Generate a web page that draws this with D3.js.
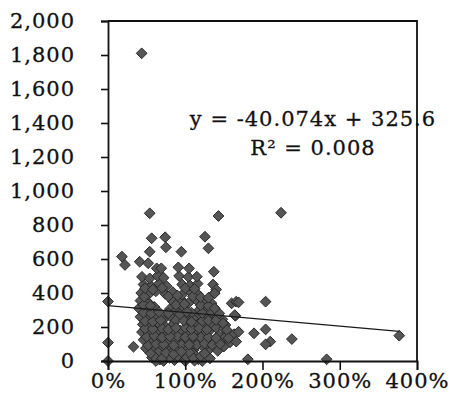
<!DOCTYPE html>
<html><head><meta charset="utf-8">
<script src="https://cdn.jsdelivr.net/npm/d3@7"></script>
<style>body{margin:0;background:#fff}svg{display:block}</style>
</head><body><svg id="c" width="453" height="408"></svg>
<script>
// growth ratio (fraction, shown as %) and amount for each point
const growth = [
  0.57,0.67,0.76,0.86,0.97,1.06,1.17,1.27,0.72,1.00,1.12,0.62,0.92,1.22,
  0.49,0.60,0.70,0.80,0.91,1.01,1.11,1.22,1.32,1.42,1.50,
  0.46,0.56,0.66,0.76,0.87,0.97,1.07,1.18,1.28,1.38,1.49,1.58,
  0.44,0.53,0.63,0.73,0.83,0.93,1.03,1.13,1.23,1.33,1.43,1.54,1.63,
  0.45,0.55,0.65,0.75,0.85,1.05,1.15,1.25,1.35,1.45,1.52,
  0.42,0.52,0.62,0.72,0.80,1.00,1.10,1.20,1.30,1.40,1.48,
  0.40,0.50,0.60,0.80,0.88,0.98,1.18,1.28,1.38,
  0.42,0.52,0.84,0.94,1.04,1.14,1.24,1.34,
  0.43,0.52,0.62,0.74,0.84,0.96,1.06,1.16,1.38,
  0.46,0.56,0.66,0.76,0.96,1.06,1.16,1.36,
  0.44,0.54,0.64,0.72,0.92,1.04,1.15,
  0.41,0.52,0.63,0.69,0.91,1.05,1.37,
  0.82,1.10,0.65,0.95,1.15,0.70,1.00,0.90,1.20,0.78,1.08,1.22,0.88,
  0.60,0.80,0.90,1.02,1.10,1.20,0.70,1.32,
  0.55,0.75,0.85,1.05,1.25,0.95,
  0.52,0.62,0.72,0.85,1.05,1.25,1.35,1.45,
  0.50,0.60,0.70,0.80,1.00,1.10,1.30,1.40,1.52,
  0.48,0.58,0.78,0.88,1.08,1.18,1.28,1.40,1.50,
  0.48,0.58,0.68,0.98,1.08,1.30,1.40,
  0.46,0.56,0.66,0.93,1.02,1.22,1.34,1.44,
  0.46,0.55,0.88,0.99,1.20,1.30,
  0.47,0.78,0.90,1.10,1.20,1.30,
  0.48,0.58,0.70,1.00,1.12,1.40,
  0.18,0.22,0.54,0.565,0.74,0.75,0.54,0.95,1.255,1.30,1.43,2.24,0.436,
  0.00,0.00,0.00,0.33,
  1.60,1.66,1.69,1.65,1.49,1.54,1.56,1.69,1.89,2.04,2.04,2.10,2.04,2.38,3.77,1.81,2.83,1.38,1.38,1.64,1.66
];
const amount = [
  20,8,30,5,15,35,10,25,0,0,2,0,40,0,
  75,62,85,70,55,80,66,90,72,60,85,
  125,110,130,105,120,135,112,128,100,118,130,110,
  170,160,175,150,168,180,155,172,160,185,150,170,158,
  215,205,225,200,220,210,225,200,218,230,212,
  260,250,270,245,265,262,250,270,255,265,245,
  310,300,318,305,295,315,300,320,310,
  355,345,350,365,340,360,350,340,
  400,390,410,395,405,390,410,395,400,
  450,440,455,440,450,445,455,450,
  495,486,500,490,500,495,496,
  584,575,545,545,551,545,525,
  45,45,50,95,95,190,195,145,140,280,285,235,240,
  25,18,28,22,20,28,15,15,
  45,48,40,52,45,55,
  92,100,98,92,96,102,95,100,
  142,148,138,145,140,145,140,135,142,
  190,188,185,195,188,192,185,195,190,
  235,232,240,238,230,238,240,
  285,280,288,275,290,282,288,280,
  330,325,330,335,328,325,
  378,380,385,380,375,372,
  428,420,430,428,425,420,
  614,565,869,722,728,669,643,643,731,663,853,872,1810,
  350,108,0,84,
  339,349,345,266,222,182,134,172,163,349,186,114,98,129,149,10,10,398,310,270,114
];
const yTicks = [0,200,400,600,800,1000,1200,1400,1600,1800,2000];
const xTicks = [0,1,2,3,4];
const slope = -40.074, intercept = 325.6;
const eqLabel = "y = -40.074x + 325.6";
const r2Label = "R\u00b2 = 0.008";

const svg = d3.select("#c");
const x = d3.scaleLinear().domain([0,4]).range([108,417]);
const y = d3.scaleLinear().domain([0,2000]).range([361,21]);
const font = "'DejaVu Serif', serif";

// points
const sym = d3.symbol().type(d3.symbolSquare).size(58);
svg.append("g").selectAll("path").data(growth.map((g,i)=>[g,amount[i]]))
  .join("path")
  .attr("d", sym)
  .attr("transform", d => `translate(${x(d[0])},${y(d[1])}) rotate(45)`)
  .attr("fill", "#555555")
  .attr("stroke", "#262626")
  .attr("stroke-width", 0.9);

// trend line
const xmin = d3.min(growth), xmax = d3.max(growth);
svg.append("line")
  .attr("x1", x(xmin)).attr("y1", y(intercept + slope*xmin))
  .attr("x2", x(xmax)).attr("y2", y(intercept + slope*xmax))
  .attr("stroke", "#1a1a1a").attr("stroke-width", 1.2);

// frame (top and right)
svg.append("path")
  .attr("d", `M${x(0)},${y(2000)}H${x(4)}V${y(0)}`)
  .attr("fill","none").attr("stroke","#111").attr("stroke-width",1.8);

// axes
const yAxis = svg.append("g").attr("transform", `translate(${x(0)},0)`)
  .call(d3.axisLeft(y).tickValues(yTicks).tickSize(7).tickPadding(26).tickFormat(d3.format(",")));
const xAxis = svg.append("g").attr("transform", `translate(0,${y(0)})`)
  .call(d3.axisBottom(x).tickValues(xTicks).tickSize(9).tickPadding(3).tickFormat(d3.format(".0%")));
[yAxis, xAxis].forEach(a => {
  a.select(".domain").attr("stroke","#111").attr("stroke-width",1.8);
  a.selectAll(".tick line").attr("stroke","#111").attr("stroke-width",1.6);
  a.selectAll("text").attr("font-family", font).attr("font-size", 21)
    .attr("fill","#111").attr("stroke","#111").attr("stroke-width",0.3)
    .attr("letter-spacing", 1);
});

// equation labels
[[eqLabel,126],[r2Label,155]].forEach(([t,yy]) => {
  svg.append("text").attr("x", 313).attr("y", yy).attr("text-anchor","middle")
    .attr("font-family", font).attr("font-size", 21).attr("letter-spacing", 1)
    .attr("fill","#111").attr("stroke","#111").attr("stroke-width",0.3).text(t);
});
</script></body></html>
